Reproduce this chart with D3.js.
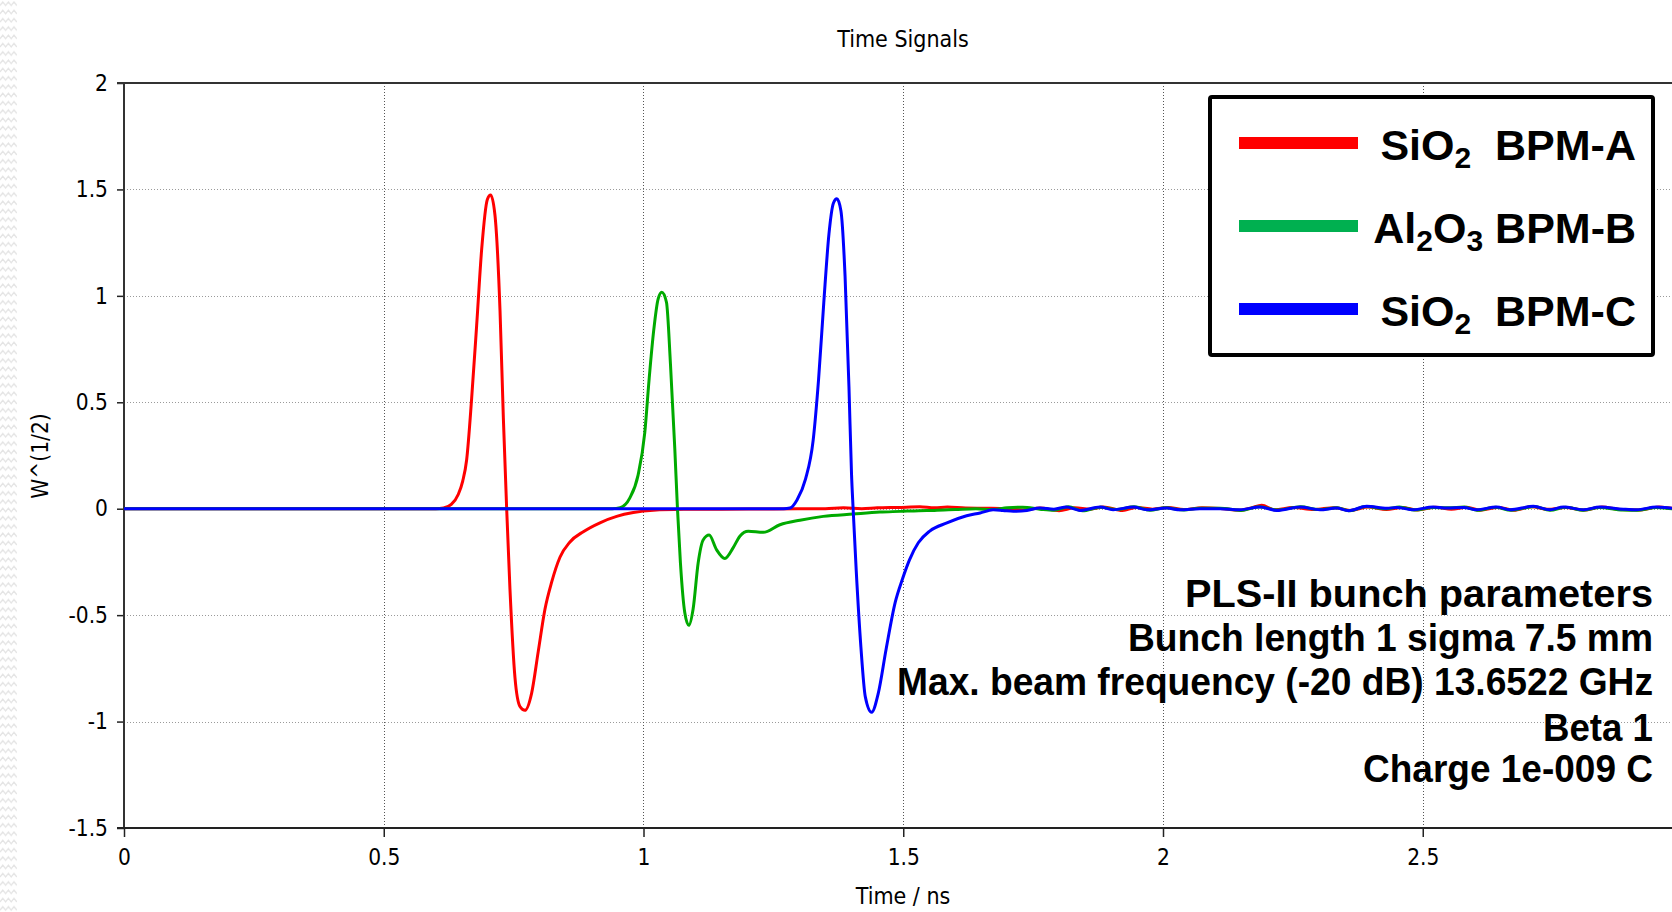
<!DOCTYPE html>
<html>
<head>
<meta charset="utf-8">
<script src="https://cdn.jsdelivr.net/npm/d3@7"></script>
<style>
  html, body { margin: 0; padding: 0; background: #fff; }
  svg { display: block; }
  .tahoma { font-family: "DejaVu Sans Condensed", "DejaVu Sans", sans-serif; font-stretch: condensed; fill: #000; }
  .bold { font-family: "Liberation Sans", Arial, sans-serif; font-weight: bold; fill: #000; white-space: pre; }
</style>
</head>
<body>
<svg id="chart" width="1672" height="912"></svg>
<script>
// ---------------- data ----------------
const title = "Time Signals";
const xLabel = "Time / ns";
const yLabel = "W^(1/2)";
const xTicks = [0, 0.5, 1, 1.5, 2, 2.5];
const yTicks = [-1.5, -1, -0.5, 0, 0.5, 1, 1.5, 2];
const xDomain = [0, 3];
const yDomain = [-1.5, 2];

const seriesNames = ["SiO2 BPM-A", "Al2O3 BPM-B", "SiO2 BPM-C"];
const lineColors = ["#ff0000", "#00aa00", "#0000ff"];
const legendColors = ["#ff0000", "#00b050", "#0000ff"];

const redData = [
  [0,0],[0.60,0],[0.615,0.003],[0.630,0.02],[0.6436,0.068],[0.652,0.13],[0.6596,0.23],[0.6692,0.518],
  [0.6788,0.86],[0.6885,1.219],[0.6994,1.453],[0.7058,1.474],[0.714,1.381],[0.7238,0.931],[0.7302,0.428],
  [0.7366,0.0],[0.743,-0.38],[0.7526,-0.794],[0.7622,-0.929],[0.7719,-0.947],[0.7847,-0.866],[0.7975,-0.669],
  [0.8104,-0.471],[0.8232,-0.345],[0.8392,-0.228],[0.8585,-0.156],[0.8842,-0.108],[0.9162,-0.066],
  [0.9483,-0.036],[0.9804,-0.018],[1.019,-0.007],[1.077,-0.003],[1.15,-0.002],[1.25,-0.001],[1.35,0.0],
  [1.385,0.004],[1.42,0.0],[1.45,0.004],[1.49,0.006],[1.532,0.009],[1.56,0.004],[1.585,0.008],[1.62,0.003],
  [1.66,0.002],[1.70,0.0],[1.73,-0.006],[1.763,0.003],[1.80,-0.009],[1.83,0.004],[1.86,-0.002],[1.885,0.008],
  [1.922,-0.008],[1.95,0.006],[1.98,-0.002],[2.01,0.006],[2.04,-0.004],[2.075,0.004],[2.11,0.001],
  [2.148,-0.007],[2.17,0.004],[2.19,0.016],[2.215,-0.005],[2.25,0.006],[2.29,-0.004],[2.33,0.005],
  [2.36,-0.008],[2.395,0.008],[2.43,-0.004],[2.46,0.006],[2.49,-0.006],[2.525,0.007],[2.555,-0.002],
  [2.585,0.007],[2.61,-0.007],[2.645,0.006],[2.675,-0.007],[2.71,0.009],[2.74,-0.003],[2.775,0.006],
  [2.81,-0.006],[2.845,0.008],[2.88,-0.004],[2.915,-0.006],[2.955,0.008],[2.98,0.002],[3.0,0.0]
];

const greenData = [
  [0,0],[0.94,0],[0.955,0.005],[0.9735,0.05],[0.9896,0.158],[1.0024,0.356],[1.0108,0.608],[1.0198,0.841],
  [1.0281,0.985],[1.0352,1.017],[1.0442,0.97],[1.0519,0.68],[1.0602,0.284],[1.0654,0.0],[1.0711,-0.255],
  [1.0795,-0.489],[1.0872,-0.548],[1.0955,-0.471],[1.1052,-0.255],[1.1148,-0.147],[1.1264,-0.124],
  [1.1405,-0.192],[1.1566,-0.234],[1.1727,-0.183],[1.1855,-0.129],[1.2016,-0.106],[1.2305,-0.111],
  [1.2626,-0.0755],[1.3011,-0.054],[1.346,-0.036],[1.4038,-0.025],[1.455,-0.016],[1.494,-0.0125],
  [1.53,-0.009],[1.56,-0.008],[1.6,-0.004],[1.64,0.0],[1.67,-0.004],[1.70,0.004],[1.73,0.007],
  [1.763,-0.002],[1.79,-0.007],[1.818,0.009],[1.845,-0.01],[1.88,0.007],[1.91,-0.004],[1.945,0.009],
  [1.975,-0.007],[2.005,0.004],[2.04,-0.006],[2.07,0.002],[2.11,0.002],[2.15,-0.008],[2.185,0.009],
  [2.22,-0.006],[2.265,0.009],[2.30,-0.004],[2.335,0.004],[2.36,-0.01],[2.39,0.01],[2.43,0.0],
  [2.455,0.008],[2.485,-0.006],[2.52,0.006],[2.55,0.004],[2.58,0.008],[2.605,-0.007],[2.64,0.007],
  [2.67,-0.007],[2.715,0.01],[2.745,-0.007],[2.775,0.007],[2.81,-0.007],[2.84,0.006],[2.885,-0.006],
  [2.915,-0.007],[2.95,0.006],[2.98,0.0],[3.0,0.0]
];

const blueData = [
  [0,0],[1.27,0],[1.282,0.003],[1.2955,0.041],[1.312,0.14],[1.3265,0.32],[1.337,0.608],[1.347,0.967],
  [1.357,1.291],[1.3655,1.435],[1.3722,1.456],[1.38,1.40],[1.388,1.093],[1.3955,0.572],[1.4005,0.158],
  [1.4035,0.0],[1.4095,-0.291],[1.4185,-0.65],[1.427,-0.884],[1.439,-0.956],[1.452,-0.866],[1.467,-0.66],
  [1.4845,-0.44],[1.4985,-0.33],[1.512,-0.24],[1.529,-0.16],[1.551,-0.105],[1.584,-0.067],[1.622,-0.033],
  [1.648,-0.02],[1.673,-0.005],[1.692,-0.008],[1.712,-0.012],[1.738,-0.008],[1.763,0.003],[1.79,-0.002],
  [1.8146,0.008],[1.840,-0.008],[1.879,0.008],[1.904,-0.005],[1.943,0.008],[1.969,-0.005],[2.007,0.003],
  [2.033,-0.005],[2.071,0.0],[2.110,0.0],[2.148,-0.005],[2.187,0.008],[2.219,-0.008],[2.264,0.008],
  [2.302,-0.005],[2.334,0.003],[2.357,-0.009],[2.392,0.011],[2.431,0.002],[2.450,0.006],[2.482,-0.005],
  [2.520,0.008],[2.546,0.003],[2.578,0.006],[2.604,-0.005],[2.642,0.008],[2.668,-0.005],[2.713,0.011],
  [2.745,-0.005],[2.771,0.008],[2.809,-0.005],[2.841,0.008],[2.886,-0.002],[2.912,-0.005],[2.950,0.008],
  [2.976,0.003],[3.0,0.0]
];

const annotationLines = [
  "PLS-II bunch parameters",
  "Bunch length 1 sigma 7.5 mm",
  "Max. beam frequency (-20 dB) 13.6522 GHz",
  "Beta 1",
  "Charge 1e-009 C"
];

// legend label parts: [text, isSubscript]
const legendLabels = [
  [["SiO", false], ["2", true], ["  BPM-A", false]],
  [["Al", false], ["2", true], ["O", false], ["3", true], [" BPM-B", false]],
  [["SiO", false], ["2", true], ["  BPM-C", false]]
];

// ---------------- styles / layout ----------------
const annotationBaselines = [607, 651, 695, 741, 782];
const annotationWidths = [468, 525, 756, 110, 290];

const svg = d3.select("#chart");
const plot = { left: 124, top: 83, bottom: 828, right: 1682.5 };

const x = d3.scaleLinear().domain(xDomain).range([plot.left, plot.right]);
const y = d3.scaleLinear().domain(yDomain).range([plot.bottom, plot.top]);

svg.append("rect").attr("width", 1672).attr("height", 912).attr("fill", "#fff");

// left zigzag texture
const defs = svg.append("defs");
const pat = defs.append("pattern").attr("id", "zig").attr("patternUnits", "userSpaceOnUse")
  .attr("width", 17).attr("height", 8.3);
pat.append("path").attr("d", "M0,5.5 L2.8,2 L5.6,5.5 L8.4,2 L11.2,5.5 L14,2 L16.8,5.5")
  .attr("fill", "none").attr("stroke", "#e4e4e4").attr("stroke-width", 1.3);
svg.append("rect").attr("x", 0).attr("y", 0).attr("width", 17).attr("height", 912).attr("fill", "url(#zig)");

defs.append("clipPath").attr("id", "clip").append("rect")
  .attr("x", plot.left).attr("y", plot.top - 2).attr("width", plot.right - plot.left).attr("height", plot.bottom - plot.top + 4);

// grid
const gridY = yTicks.filter(v => v > yDomain[0] && v < yDomain[1]);
const gridX = xTicks.filter(v => v > xDomain[0] && v < xDomain[1]);
svg.append("g").selectAll("line").data(gridY).join("line")
  .attr("x1", plot.left).attr("x2", plot.right)
  .attr("y1", d => Math.round(y(d)) + 0.5).attr("y2", d => Math.round(y(d)) + 0.5)
  .attr("stroke", "#9a9a9a").attr("stroke-width", 1).attr("stroke-dasharray", "1,2");
svg.append("g").selectAll("line").data(gridX).join("line")
  .attr("y1", plot.top).attr("y2", plot.bottom)
  .attr("x1", d => Math.round(x(d)) + 0.5).attr("x2", d => Math.round(x(d)) + 0.5)
  .attr("stroke", "#555").attr("stroke-width", 1).attr("stroke-dasharray", "1,2");

// axes
const fmt = d => String(d);
const yAxis = svg.append("g").attr("transform", `translate(${plot.left},0)`)
  .call(d3.axisLeft(y).tickValues(yTicks).tickFormat(fmt).tickSize(7).tickPadding(9));
const xAxis = svg.append("g").attr("transform", `translate(0,${plot.bottom})`)
  .call(d3.axisBottom(x).tickValues(xTicks).tickFormat(fmt).tickSize(9).tickPadding(12));
[yAxis, xAxis].forEach(g => {
  g.select(".domain").remove();
  g.selectAll(".tick line").attr("stroke", "#222").attr("stroke-width", 1.5);
  g.selectAll(".tick text").attr("class", "tahoma").attr("font-size", 22.5)
    .style("font-family", '"DejaVu Sans Condensed","DejaVu Sans",sans-serif').style("font-stretch", "condensed");
});
svg.append("line").attr("x1", plot.left).attr("x2", plot.left).attr("y1", plot.top).attr("y2", plot.bottom)
  .attr("stroke", "#333").attr("stroke-width", 2);
svg.append("line").attr("x1", plot.left - 7).attr("x2", plot.right).attr("y1", plot.bottom).attr("y2", plot.bottom)
  .attr("stroke", "#222").attr("stroke-width", 2);
svg.append("line").attr("x1", plot.left - 7).attr("x2", plot.right).attr("y1", plot.top).attr("y2", plot.top)
  .attr("stroke", "#333").attr("stroke-width", 2);

// lines
const line = d3.line().x(d => x(d[0])).y(d => y(d[1])).curve(d3.curveMonotoneX);
const series = [redData, greenData, blueData];
svg.append("g").attr("clip-path", "url(#clip)").selectAll("path").data(series).join("path")
  .attr("d", line).attr("fill", "none")
  .attr("stroke", (d, i) => lineColors[i]).attr("stroke-width", 3)
  .attr("stroke-linejoin", "round");

// titles
svg.append("text").attr("class", "tahoma").attr("x", 903).attr("y", 47).attr("text-anchor", "middle")
  .attr("font-size", 23).text(title);
svg.append("text").attr("class", "tahoma").attr("x", 903).attr("y", 904).attr("text-anchor", "middle")
  .attr("font-size", 23).text(xLabel);
svg.append("text").attr("class", "tahoma").attr("transform", "translate(48,456) rotate(-90)")
  .attr("text-anchor", "middle").attr("font-size", 22.5).text(yLabel);

// legend
const lg = svg.append("g");
lg.append("rect").attr("x", 1210).attr("y", 97).attr("width", 443).attr("height", 258)
  .attr("rx", 2).attr("fill", "#fff").attr("stroke", "#000").attr("stroke-width", 4);
const rowY = [143, 226, 309];
legendLabels.forEach((parts, i) => {
  lg.append("line").attr("x1", 1239).attr("x2", 1358).attr("y1", rowY[i]).attr("y2", rowY[i])
    .attr("stroke", legendColors[i]).attr("stroke-width", 12);
  const t = lg.append("text").attr("class", "bold").attr("x", 1636).attr("y", rowY[i] + 17)
    .attr("text-anchor", "end").attr("font-size", 43);
  let sub = false;
  parts.forEach(([s, isSub]) => {
    const ts = t.append("tspan").text(s);
    if (isSub && !sub) { ts.attr("dy", 8).attr("font-size", 30); sub = true; }
    else if (isSub && sub) { ts.attr("font-size", 30); }
    else if (!isSub && sub) { ts.attr("dy", -8); sub = false; }
  });
});

// annotation
svg.append("g").selectAll("text").data(annotationLines).join("text")
  .attr("class", "bold").attr("x", 1653).attr("y", (d, i) => annotationBaselines[i])
  .attr("text-anchor", "end").attr("font-size", 39.5)
  .attr("textLength", (d, i) => annotationWidths[i]).attr("lengthAdjust", "spacingAndGlyphs")
  .text(d => d);
</script>
</body>
</html>
